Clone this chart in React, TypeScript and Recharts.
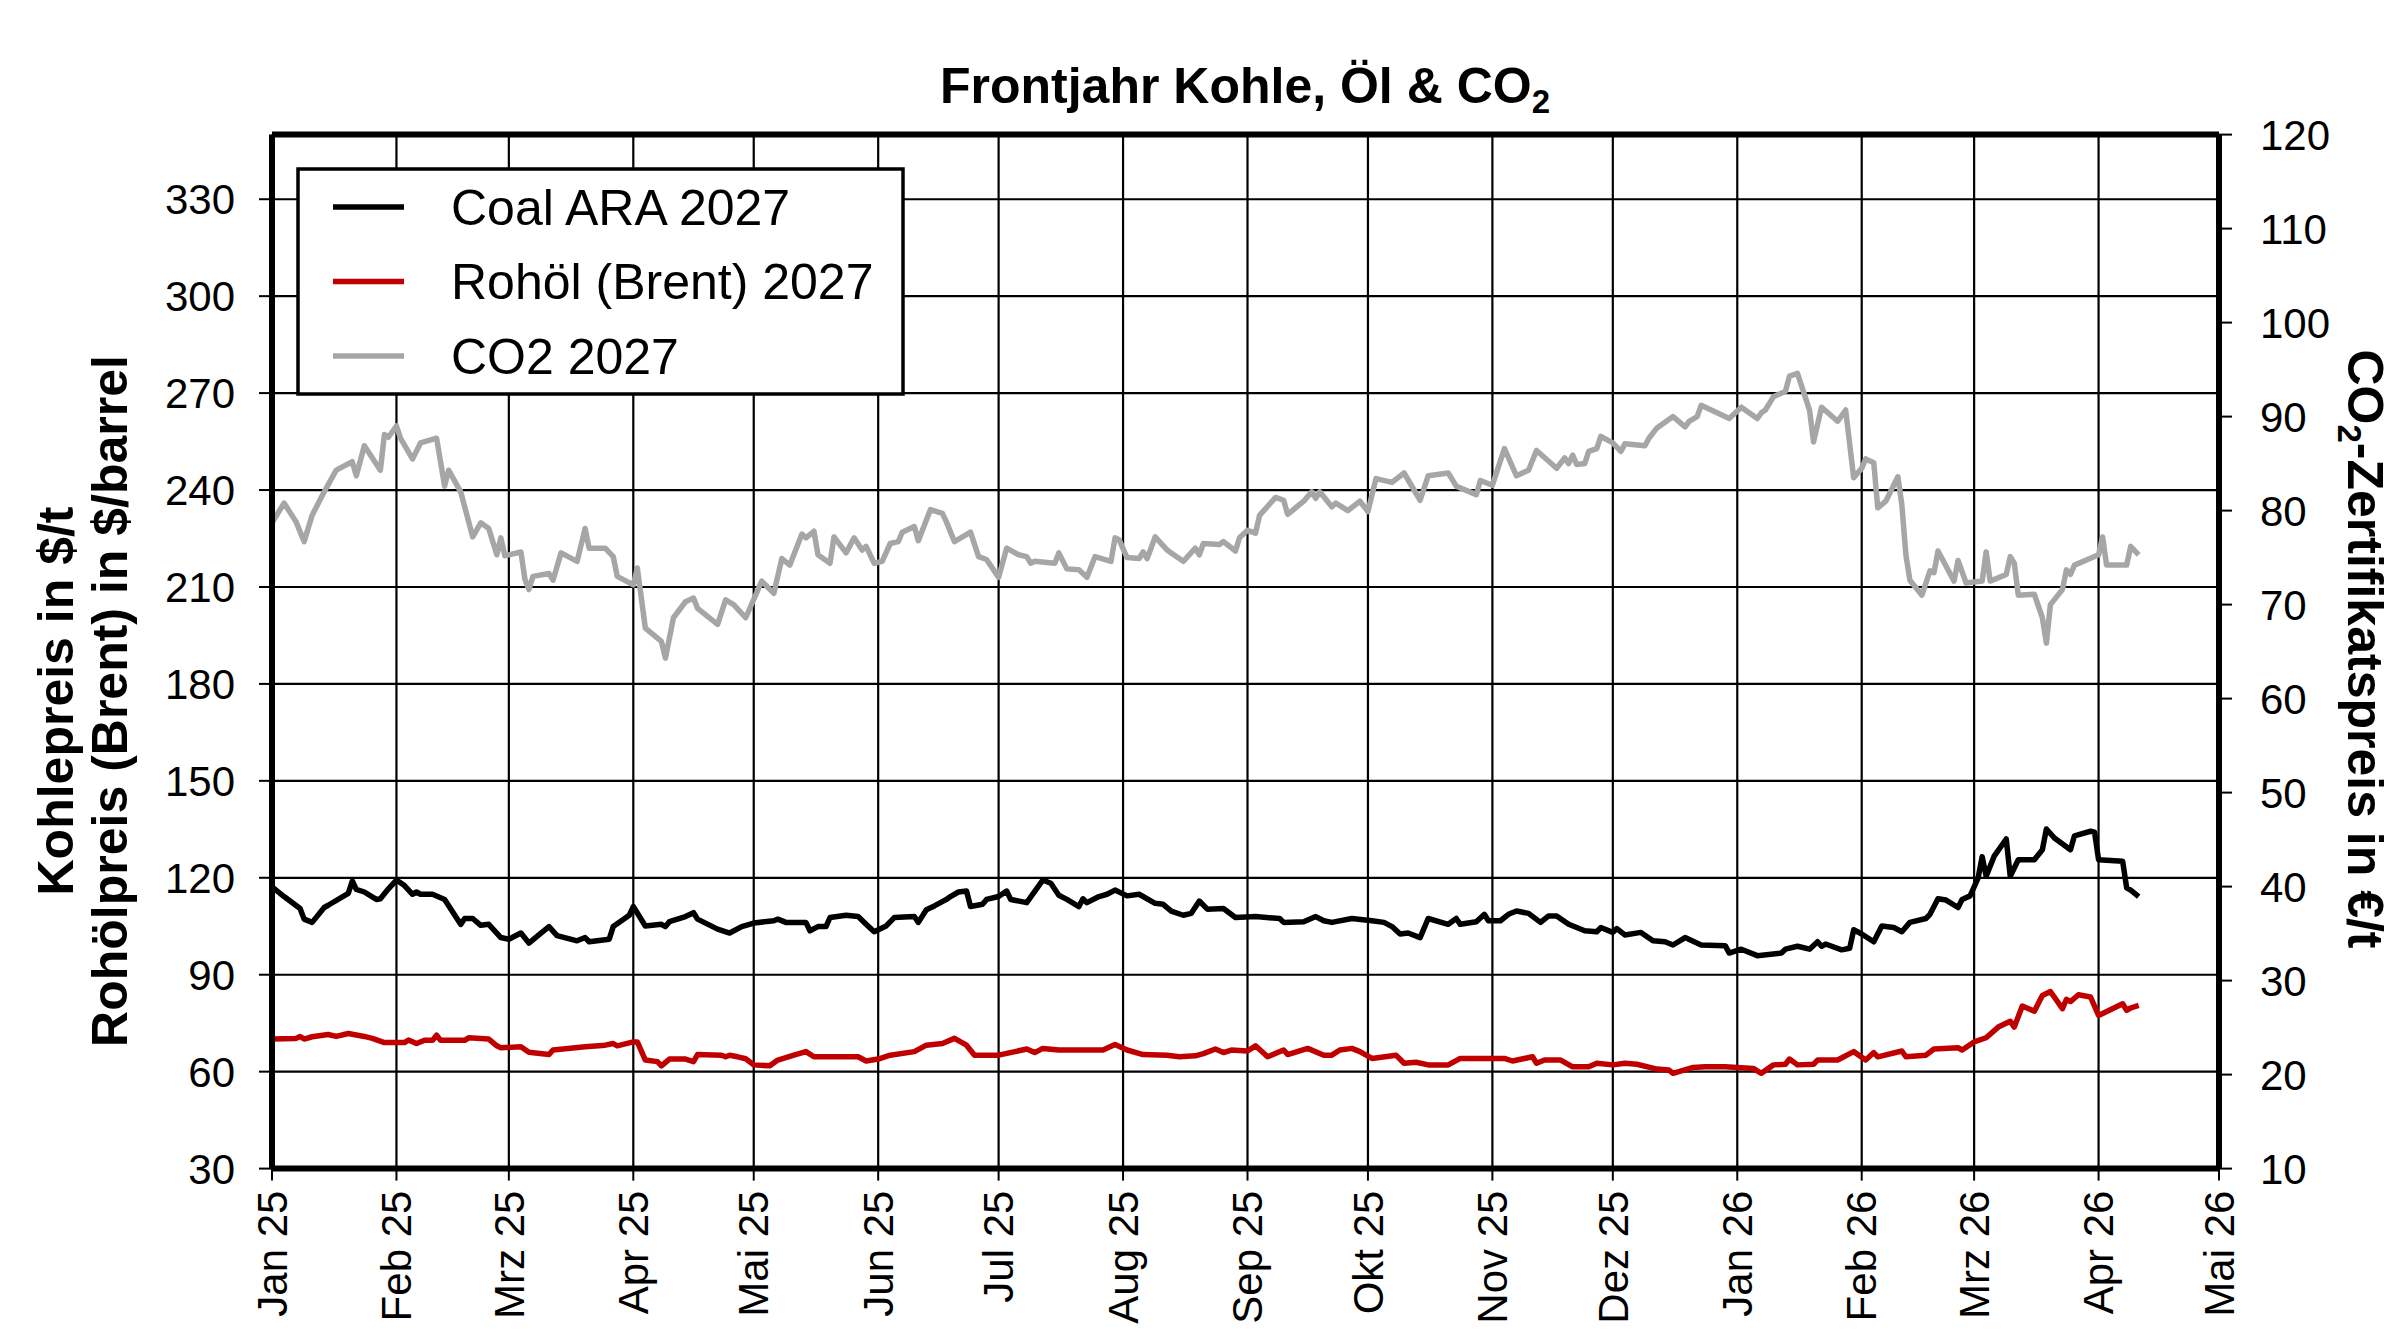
import React from 'react';
import { LineChart, Line, XAxis, YAxis, CartesianGrid, ReferenceLine } from 'recharts';

const FONT = "'Liberation Sans', Arial, Helvetica, sans-serif";

// x axis: days since 1 Jan 2025
const monthDays = [0, 31, 59, 90, 120, 151, 181, 212, 243, 273, 304, 334, 365, 396, 424, 455, 485];
const monthLabels = ['Jan 25', 'Feb 25', 'Mrz 25', 'Apr 25', 'Mai 25', 'Jun 25', 'Jul 25', 'Aug 25', 'Sep 25', 'Okt 25', 'Nov 25', 'Dez 25', 'Jan 26', 'Feb 26', 'Mrz 26', 'Apr 26', 'Mai 26'];
const leftTicks = [30, 60, 90, 120, 150, 180, 210, 240, 270, 300, 330];
const rightTicks = [10, 20, 30, 40, 50, 60, 70, 80, 90, 100, 110, 120];

const seriesNames = ['Coal ARA 2027', 'Rohöl (Brent) 2027', 'CO2 2027'];
const seriesColors = ['#000000', '#C00000', '#A6A6A6'];

// [day, $/t]
const coalSeries = [[0,117.2],[3,114.2],[7,110.5],[8,107.2],[10,106.2],[13,110.8],[14,111.5],[19,115.2],[20,119.0],[21,116.4],[23,115.6],[26,113.3],[27,113.5],[29,116.6],[31,119.3],[33,117.6],[35,114.9],[36,115.6],[37,114.9],[40,114.9],[43,113.3],[47,105.6],[48,107.4],[50,107.4],[52,105.3],[54,105.6],[57,101.5],[59,101.0],[62,102.9],[64,99.8],[67,102.9],[69,104.9],[71,102.1],[76,100.5],[78,101.5],[79,100.2],[84,101.0],[85,104.9],[89,108.4],[90,111.1],[93,105.1],[97,105.6],[98,104.9],[99,106.4],[103,108.0],[105,109.2],[106,107.2],[111,104.1],[114,102.9],[117,104.9],[120,106.0],[125,106.7],[126,107.2],[128,106.2],[133,106.2],[134,103.6],[136,104.9],[138,104.9],[139,107.7],[143,108.4],[146,108.0],[148,105.6],[150,103.3],[153,105.1],[155,107.7],[160,108.0],[161,106.2],[163,110.1],[165,111.3],[168,113.3],[169,114.2],[171,115.6],[173,115.9],[174,111.1],[177,111.8],[178,113.3],[181,114.2],[183,115.9],[184,113.3],[188,112.3],[192,119.3],[194,118.3],[196,114.6],[198,113.3],[201,111.1],[202,113.5],[203,112.3],[206,114.2],[208,114.9],[210,116.2],[213,114.4],[216,114.9],[220,112.1],[222,111.8],[224,109.7],[227,108.4],[229,109.0],[231,112.8],[233,110.3],[237,110.5],[240,107.7],[245,108.0],[251,107.4],[252,106.2],[257,106.4],[260,108.0],[262,106.7],[264,106.2],[269,107.4],[274,106.7],[277,106.2],[279,104.9],[281,102.6],[283,102.9],[286,101.5],[288,107.4],[293,105.6],[295,107.4],[296,105.6],[300,106.4],[302,108.7],[303,106.7],[306,106.7],[308,108.7],[310,109.7],[313,109.0],[316,106.2],[318,108.2],[320,108.2],[323,105.6],[327,103.6],[330,103.3],[331,104.6],[334,103.1],[335,104.3],[337,102.3],[341,103.1],[344,100.5],[347,100.2],[349,99.2],[352,101.5],[356,99.2],[362,99.0],[363,96.7],[366,97.9],[370,95.9],[376,96.7],[377,97.9],[380,98.8],[383,97.9],[385,100.2],[386,98.8],[387,99.5],[391,97.7],[393,98.2],[394,103.9],[396,102.6],[399,100.2],[401,105.1],[404,104.6],[406,103.3],[408,106.2],[412,107.4],[413,108.7],[415,113.5],[417,113.1],[420,110.8],[421,113.3],[423,114.4],[425,120.0],[426,126.5],[427,120.5],[429,126.7],[432,132.0],[433,120.5],[435,125.6],[439,125.6],[441,128.7],[442,135.1],[444,132.3],[448,128.7],[449,133.0],[453,134.4],[454,134.1],[455,125.6],[461,125.1],[462,116.9],[463,116.2],[465,114.2]];

// [day, $/barrel]
const oilSeries = [[0,70.1],[6,70.3],[7,70.9],[8,70.1],[10,70.8],[14,71.5],[16,70.9],[19,71.8],[23,70.9],[25,70.3],[28,69.0],[33,69.0],[34,69.8],[36,68.7],[38,69.7],[40,69.7],[41,71.3],[42,69.7],[48,69.7],[49,70.5],[54,70.1],[56,68.0],[57,67.4],[62,67.7],[64,66.0],[69,65.3],[70,66.7],[78,67.7],[83,68.2],[85,68.7],[86,68.0],[90,69.2],[91,69.2],[93,63.6],[96,63.1],[97,61.8],[99,63.9],[103,63.9],[105,63.1],[106,65.3],[112,65.1],[113,64.6],[114,65.1],[116,64.6],[118,64.0],[120,62.1],[124,61.8],[126,63.6],[130,65.1],[133,66.2],[135,64.6],[146,64.6],[148,63.3],[151,63.9],[154,65.1],[160,66.2],[163,68.2],[167,68.7],[170,70.3],[173,68.2],[175,65.1],[181,65.1],[188,67.0],[190,65.9],[192,67.2],[196,66.7],[207,66.7],[210,68.4],[213,66.7],[217,65.3],[223,65.1],[226,64.6],[230,64.9],[232,65.6],[235,67.0],[237,65.9],[239,66.7],[243,66.4],[245,68.0],[248,64.6],[252,66.7],[253,65.3],[258,67.2],[262,65.1],[264,65.1],[266,66.7],[269,67.2],[271,66.2],[274,64.1],[280,65.1],[282,62.6],[285,62.9],[288,62.1],[293,62.1],[296,64.1],[307,64.1],[309,63.3],[314,64.6],[315,62.6],[317,63.6],[321,63.6],[324,61.5],[328,61.5],[330,62.6],[334,62.1],[337,62.6],[340,62.3],[345,60.8],[348,60.5],[349,59.5],[354,61.3],[357,61.5],[362,61.5],[369,61.0],[371,59.5],[374,62.1],[377,62.3],[378,63.9],[380,62.1],[384,62.3],[385,63.6],[390,63.6],[394,66.2],[397,63.6],[399,65.9],[400,64.6],[406,66.4],[407,64.6],[412,65.1],[414,67.0],[420,67.4],[421,66.7],[424,69.2],[427,70.5],[430,73.8],[433,75.6],[434,73.8],[436,80.3],[439,78.7],[441,83.6],[443,84.8],[446,79.5],[447,82.4],[448,81.7],[450,83.8],[453,83.1],[455,77.4],[461,81.0],[462,79.0],[463,79.7],[465,80.5]];

// [day, €/t]
const co2Series = [[0,78.7],[3,80.8],[6,78.8],[8,76.7],[10,79.5],[13,82.0],[16,84.3],[20,85.2],[21,83.7],[23,86.9],[27,84.3],[28,88.1],[29,87.8],[31,89.0],[32,87.7],[35,85.5],[37,87.2],[41,87.7],[43,82.6],[44,84.3],[47,82.0],[50,77.2],[52,78.7],[54,78.1],[56,75.3],[57,77.1],[58,75.2],[62,75.6],[63,72.7],[64,71.6],[65,73.0],[69,73.3],[70,72.6],[72,75.5],[76,74.6],[78,78.1],[79,76.0],[83,76.0],[85,75.1],[86,73.0],[90,72.1],[91,73.9],[93,67.5],[97,66.1],[98,64.3],[100,68.6],[103,70.3],[105,70.7],[106,69.6],[111,67.9],[113,70.5],[115,70.0],[118,68.6],[122,72.5],[125,71.2],[127,74.9],[129,74.2],[132,77.5],[133,77.1],[135,77.8],[136,75.3],[139,74.4],[140,77.2],[143,75.5],[145,77.1],[147,75.8],[148,76.2],[150,74.4],[152,74.6],[154,76.5],[156,76.7],[157,77.7],[160,78.3],[161,76.8],[164,80.1],[167,79.7],[168,78.8],[170,76.7],[174,77.7],[176,75.1],[178,74.8],[181,72.9],[183,76.0],[186,75.3],[188,75.1],[189,74.4],[190,74.6],[195,74.4],[196,75.5],[198,73.8],[201,73.7],[203,72.9],[205,75.1],[209,74.6],[210,77.1],[211,76.9],[213,75.0],[216,74.9],[217,75.6],[218,74.9],[220,77.2],[223,75.8],[224,75.5],[227,74.6],[230,76.0],[231,75.3],[232,76.5],[236,76.4],[237,76.7],[240,75.7],[241,77.1],[243,77.9],[245,77.6],[246,79.5],[250,81.4],[252,81.1],[253,79.6],[257,81.0],[259,82.0],[260,81.3],[261,82.0],[264,80.4],[265,80.8],[268,80.0],[271,81.0],[273,79.9],[275,83.4],[279,83.0],[282,84.0],[286,81.1],[288,83.7],[293,84.0],[295,82.6],[300,81.7],[301,83.2],[304,82.7],[307,86.6],[310,83.7],[313,84.3],[315,86.4],[320,84.5],[322,85.6],[323,85.0],[324,85.9],[325,84.9],[327,85.0],[328,86.3],[330,86.6],[331,87.9],[334,87.2],[336,86.3],[337,87.1],[342,86.9],[343,87.7],[345,88.8],[349,90.0],[352,88.9],[353,89.5],[355,90.0],[356,91.2],[363,89.8],[366,91.0],[370,89.8],[371,90.4],[372,90.7],[374,92.1],[377,92.7],[378,94.3],[380,94.6],[383,90.7],[384,87.3],[386,91.0],[390,89.5],[392,90.7],[394,83.5],[396,84.5],[397,85.5],[399,85.1],[400,80.3],[402,81.0],[405,83.6],[406,80.6],[407,75.3],[408,72.6],[411,71.0],[413,73.6],[414,73.4],[415,75.7],[419,72.5],[420,74.7],[422,72.3],[426,72.5],[427,75.6],[428,72.5],[432,73.2],[433,75.1],[434,74.4],[435,71.0],[439,71.1],[441,68.6],[442,65.9],[443,70.0],[446,71.6],[447,73.7],[448,73.2],[449,74.2],[455,75.3],[456,77.2],[457,74.2],[462,74.2],[463,76.2],[465,75.3]];

const toRows = (s: number[][]) => s.map(([day, v]) => ({ day, v }));
const coalData = toRows(coalSeries);
const oilData = toRows(oilSeries);
const co2Data = toRows(co2Series);

const XTick = (props: any) => {
  const { x, y, payload } = props;
  const idx = monthDays.indexOf(payload.value);
  return (
    <text x={x} y={y} transform={`rotate(-90 ${x} ${y})`} textAnchor="end" dy="0.35em"
      fontSize={42} fill="#000" fontFamily={FONT}>
      {idx >= 0 ? monthLabels[idx] : ''}
    </text>
  );
};

export default function App() {
  const tickStyle = { fontSize: 42, fill: '#000', fontFamily: FONT };
  const lineW = 5.5;
  return (
    <div style={{ position: 'absolute', left: 0, top: 0, width: 2400, height: 1334, background: '#fff', overflow: 'hidden' }}>
      <LineChart width={2400} height={1334} margin={{ top: 134.6, right: 0, bottom: 0, left: 0 }}>
        <CartesianGrid stroke="#000" strokeWidth={2.2} />
        <XAxis dataKey="day" type="number" domain={[0, 485]} ticks={monthDays} interval={0}
          allowDataOverflow height={165.4} tickSize={12} tickMargin={10}
          tick={<XTick />} tickLine={{ stroke: '#000', strokeWidth: 2 }}
          axisLine={{ stroke: '#000', strokeWidth: 6 }} />
        <YAxis type="number" domain={[30, 350]} ticks={leftTicks} interval={0} allowDataOverflow
          width={272} tickSize={13} tickMargin={24} tick={tickStyle}
          tickLine={{ stroke: '#000', strokeWidth: 2 }} axisLine={{ stroke: '#000', strokeWidth: 6 }} />
        <YAxis yAxisId="right" orientation="right" type="number" domain={[10, 120]} ticks={rightTicks}
          interval={0} allowDataOverflow width={181} tickSize={13} tickMargin={28} tick={tickStyle}
          tickLine={{ stroke: '#000', strokeWidth: 2 }} axisLine={{ stroke: '#000', strokeWidth: 6 }} />
        <ReferenceLine y={350} stroke="#000" strokeWidth={6} />
        <Line data={co2Data} yAxisId="right" dataKey="v" name={seriesNames[2]} type="linear"
          stroke={seriesColors[2]} strokeWidth={lineW} dot={false} strokeLinejoin="round" isAnimationActive={false} />
        <Line data={oilData} dataKey="v" name={seriesNames[1]} type="linear"
          stroke={seriesColors[1]} strokeWidth={lineW} dot={false} strokeLinejoin="round" isAnimationActive={false} />
        <Line data={coalData} dataKey="v" name={seriesNames[0]} type="linear"
          stroke={seriesColors[0]} strokeWidth={lineW} dot={false} strokeLinejoin="round" isAnimationActive={false} />
      </LineChart>
      <svg width={2400} height={1334} style={{ position: 'absolute', left: 0, top: 0, pointerEvents: 'none' }}
        fontFamily={FONT}>
        <text x={1245} y={103} textAnchor="middle" fontSize={50} fontWeight="bold" fill="#000">
          Frontjahr Kohle, Öl &amp; CO<tspan fontSize={33} dy={10}>2</tspan>
        </text>
        <text transform="translate(73,701) rotate(-90)" textAnchor="middle" fontSize={50} fontWeight="bold" fill="#000">
          Kohlepreis in $/t
        </text>
        <text transform="translate(127,701) rotate(-90)" textAnchor="middle" fontSize={50} fontWeight="bold" fill="#000">
          Rohölpreis (Brent) in $/barrel
        </text>
        <text transform="translate(2348,649) rotate(90)" textAnchor="middle" fontSize={50} fontWeight="bold" fill="#000">
          CO<tspan fontSize={33} dy={10}>2</tspan><tspan dy={-10}>-Zertifikatspreis in €/t</tspan>
        </text>
        <rect x={298} y={169} width={605} height={225} fill="#fff" stroke="#000" strokeWidth={3.5} />
        {seriesNames.map((name, i) => {
          const cy = 207 + i * 74.5;
          return (
            <g key={name}>
              <line x1={333} x2={404} y1={cy} y2={cy} stroke={seriesColors[i]} strokeWidth={5.5} />
              <text x={451} y={cy} dy="0.35em" fontSize={50} fill="#000">{name}</text>
            </g>
          );
        })}
      </svg>
    </div>
  );
}
